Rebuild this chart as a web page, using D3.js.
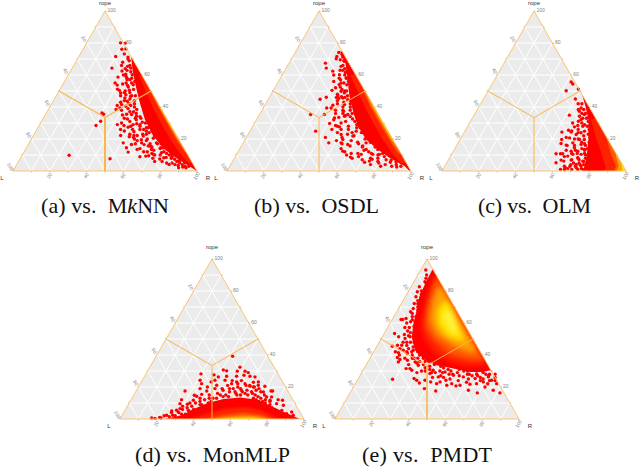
<!DOCTYPE html>
<html>
<head>
<meta charset="utf-8">
<script src="https://cdn.jsdelivr.net/npm/d3@7"></script>
<style>
  html, body { margin: 0; padding: 0; background: #fff; overflow: hidden; }
  svg { display: block; }
  .caption { font-family: "Liberation Serif", serif; font-size: 22px; fill: #111; white-space: pre; }
  .tick-label { font-family: "Liberation Sans", sans-serif; font-size: 5px; fill: #7f7f7f; }
  .axis-title { font-family: "Liberation Sans", sans-serif; font-size: 6px; fill: #333; }
</style>
</head>
<body>
<svg id="chart" width="640" height="467"></svg>
<script>
// all points are [R, rope] in percent, L is whatever is left over
const tickValues = [20, 40, 60, 80, 100];
const gridValues = [10, 20, 30, 40, 50, 60, 70, 80, 90];
const heatColors = ['#ff0000', '#ff2400', '#ff5a00', '#ffa000', '#ffe600', '#fff23c'];

const mknnPoints = [[18.4,80.1],[21,79.9],[21.1,76.1],[23.2,76.3],[23.9,73.2],[20,71.6],[25.6,68],[26.9,71.2],[21.6,64.3],[28.7,68.9],[29.6,65.4],[31.8,64.3],[30.5,62.9],[27.7,58.7],[31.9,59.1],[34.7,60.2],[35,57.1],[32.4,54.4],[29.8,53.7],[31.1,51.2],[32.6,50.4],[34.1,48.8],[37.5,47.7],[36.4,52.5],[38.4,53.9],[38.2,56],[38,45.6],[40.3,43.6],[40.6,46.7],[38.3,41.5],[36.2,40.9],[36.8,38.4],[38.4,39.4],[30.2,36.3],[31.5,35.5],[32.1,31.1],[30.9,28.4],[42.2,29],[46.1,28.4],[45.5,25.9],[48.9,27.4],[47.4,22.2],[51.1,17.6],[54.4,14.5],[56.1,16.6],[54.6,22.2],[56.4,22.2],[52.5,21.4],[56.7,11.8],[60.7,13.5],[64.5,8.9],[67.5,9.3],[48.9,7.7],[25.6,9.8],[71,10.4],[75,11.4],[77.8,8.3],[82.8,4.1],[80.9,10.4],[84.2,7.3],[88,5.2],[90.7,5.2],[50.8,29],[50,34.2],[46.8,35.3],[54.5,29],[60.1,24.9],[59.9,21.8],[61.1,17.6],[65.7,15.6],[68.5,13.5],[69.2,17.6],[74.3,14.5],[77.5,13.5],
  [26,66],[28,62.5],[30,60],[33,58],[28,55],[34,55],[36,50],[35,47],[39,49],[41,47],[37,43],[42,42],[44,44],[40,38],[43,39],[46,40],[42,35],[44,33],[47,37],[49,36],[44,30],[48,31],[51,32],[53,33],[48,25],[52,26],[55,28],[57,30],[52,23],[58,26],[60,27],[56,20],[61,23],[63,25],[58,17],[63,20],[66,22],[62,14],[66,17],[69,20],[65,12],[68,15],[72,17],[70,11],[73,14],[75,16],[72,8],[76,12],[79,13],[78,6],[82,9],[85,9],[86,4],[87,6.5],[90,4],[92,3],[94,3],[83,12],[80,10],
  [27.5,70],[30.5,66],[29,64],[33,62],[31,60.5],[35.5,58],[33.5,57],[37,55],[35.5,53.5],[40,51],[38,50.5],[36,49],[43,47],[41,45],[38.5,44],[45,42],[43.5,41],[41,40.5],[48,38.5],[45,37],[44,35.5],[52,34],[50,33],[46,32.5],[55,30.5],[52.5,29.5],[50,28],[59,27],[56,26],[53.5,24.5],[62,24],[59,23],[55,21],[66,20.5],[63,19],[60,19.5],[58,19],[70,17],[67,15.5],[63,16.5],[73,14.5],[70,13],[67,12],[78,11],[75,10],[72,10],[69,9.5],[82,8],[79,8.5],[76,7.5],[74,6],[86,6],[84,5],[81,5],[88,3.5],[91,2.5],[89,2],[93,2]];
const mknnBands = [
  [[28.4,71.6],[33.3,63.3],[40.3,52.9],[47.7,42.5],[55.6,32.2],[65.3,21.8],[75.7,13.5],[86,7.3],[98.2,1],[102,-2],[32,72]],
  [[38.5,60],[47,50],[56,40],[65.5,30],[75.4,20],[86.5,10],[93,5],[98,5],[42,61]],
  [[47.6,52],[59,40],[68.7,30],[78.6,20],[87.2,12],[90,12],[52,52]],
  [[51.9,48],[59.4,40],[69.2,30],[79.3,20],[84.8,15],[87,15],[55,48]],
  [[56,44],[64.7,35],[74.7,25],[80,20],[83,20],[60,44]]
];

const osdlPoints = [[23.7,74.1],[23.9,71.6],[24.3,70.1],[26.8,69.5],[27.3,71.2],[19.8,67.4],[21.8,64.3],[26.3,62.4],[29.3,65.4],[29.6,68.5],[31.5,62.9],[31,60.2],[33.6,61.6],[33.2,57],[35.7,58.1],[34.5,55],[38.2,53.9],[35.3,52.5],[31.9,50.4],[37.1,49.8],[39.4,48.8],[36.7,47.1],[30.9,46.1],[28.2,44.8],[38.1,45.4],[40.1,45.6],[43.3,44.6],[43.1,41.5],[37,41.1],[34.5,39.4],[36.9,39.4],[35.3,35.3],[27.8,35.3],[44.7,37.3],[48,35.3],[46.7,34.2],[41.8,33.2],[40.9,29.7],[44.8,28.4],[47.3,27.6],[35.7,24.9],[43,21],[46.5,17.6],[50.6,22.8],[53.1,19.7],[53.2,17.6],[57.3,16.6],[59.1,15.6],[56.7,12.4],[62.7,8.7],[65.6,11],[67.7,10.4],[74.3,6.2],[75.2,7.3],[74,10.4],[75.2,13.5],[77.6,10.4],[79.1,11],[85.8,6.8],[89.1,5.6],[92,5.2],[57.5,21.8],[57.8,24.9],[66,15.6],[66.8,17.6],[68.5,19.7],[68.9,13.5],
  [27,72],[30,66],[28,60],[32,64],[30,56],[34,60],[33,52],[36,55],[36,48],[39,50],[41,52],[38,44],[41,46],[44,48],[40,38],[43,40],[46,42],[42,32],[45,36],[48,38],[44,26],[47,30],[50,34],[52,36],[48,24],[52,28],[54,31],[56,33],[50,19],[54,23],[57,27],[60,30],[55,14],[58,19],[61,24],[64,27],[60,10],[63,17],[66,21],[69,23],[64,8],[68,13],[71,19],[73,20],[70,7],[73,11],[75,15],[77,17],[76,4],[78,8],[81,9],[82,13],[84,4],[87,8],[90,4],[93,3],[80,5],
  [26,73],[29,69],[30,63],[32,67],[34,62],[32,58],[36,58],[34,54],[38,56],[37,51],[40,50],[36.5,46],[39,46.5],[42,47],[39,42],[42,43],[45,44],[41,36],[44,38],[47,40],[44,33.5],[47,34.5],[50,36],[46,28],[49,31],[52,32.5],[49,26],[53,26],[56,29],[52,21],[56,24],[59,27],[54,17],[58,22],[62,24],[58,12],[62,18],[65,20],[62,11],[66,15],[69,18],[67,9],[71,12],[73,15],[74,8],[77,10],[79,13],[72,5.5],[79,6],[83,7],[86,5.5],[82,3],[88,3],[91,2.5]];
const osdlBands = [
  [[24.1,74.7],[30.7,67.4],[37.1,57],[43.2,46.7],[50.6,36.3],[57.1,28],[65.8,19.7],[75.2,13.5],[84.1,8.3],[94.9,3.1],[102,-2],[29,75]],
  [[37,60],[46,50],[55,40],[64.5,30],[74.5,20],[85.5,10],[92,5],[98,5],[42,61]],
  [[49,50],[58,40],[67.8,30],[78,20],[87.5,11],[90,11],[53,50]],
  [[53,46.5],[59,40],[69,30],[79,20],[85,14.5],[87,14],[56,47]],
  [[58.8,41],[64.6,35],[74.5,25],[81.7,18],[84,18],[62,41]]
];

const olmPoints = [[42.4,55.6],[43.9,54.4],[42.4,50.2],[48.5,51.2],[51.8,34.9],[54.9,38.4],[55.9,39.4],[56,37.3],[57.8,38.4],[57.6,34.2],[59.7,35.3],[59.5,32.2],[62.6,33.2],[58.6,31.1],[58.2,27.6],[56,25.5],[53,24.3],[58,24.3],[59.6,28.4],[62.5,28],[63.6,23.9],[61.5,22.8],[65,24.9],[59,20.7],[55.2,19.7],[56.1,17.2],[59.4,16.2],[62.3,17.6],[64.9,19.7],[67.5,19.7],[67.3,16.6],[64.7,14.5],[64,12.4],[67.6,12.4],[70.6,13.5],[56.6,10.8],[59,10.8],[60.2,10.8],[65.9,10.4],[70.4,10.4],[63.7,9.3],[61.3,6.8],[59.4,5.2],[63.1,6.2],[66.8,6.8],[69.6,8.3],[73.4,6.2],[70.9,4.1],[74,3.1],[63.9,1],[66,1],[67.6,1.5],[73.3,1],[76,1],
  [50,45],[53,42],[55,42],[58,36],[60,33],[61,30],[63,29],[58,25],[61,26],[65,28],[62,20],[66,22],[68,23],[60,16],[64,16],[69,17],[71,18],[62,9],[66,13],[69,14],[72,14],[67,7],[70,8],[72,11],[74,8],[68,4],[72,5],[75,4],[65,3],[70,1],[72,2],[75,1.5],
  [60,36],[62,33],[64,31],[56,30],[62,24],[67,26],[57,21],[64,20],[70,21],[61,13],[67,18],[70,16],[72,19],[65,11],[68,11],[71,13],[73,16],[69,5],[71,7],[73,10],[75,12],[66,2],[68,3],[71,3],[73,4],[74,6],[76,9],[77,3],[78,6]];
const olmBands = [
  [[52.6,47.4],[57.7,40.5],[63.5,32.2],[69.7,19.7],[74,9.3],[77.4,-2],[104,-2],[56,48]],
  [[65,32],[74,20],[82,10],[88,2],[88,-2],[104,-2],[69,34]],
  [[79.5,20],[87,10],[93,3],[94,-2],[104,-2],[83,20]],
  [[89.4,10],[94.5,3],[95,-2],[104,-2],[93,11]],
  [[94.8,5],[97.5,1],[97.8,-2],[104,-2],[98,5.5]]
];

const monmlpPoints = [[41.6,39.2],[29.9,28.2],[40.8,30.7],[42.9,30.1],[49,32.4],[48.8,29.9],[50,26.7],[53,29.9],[55.2,29],[53.7,27.3],[57.3,26.7],[60.2,26.3],[37.3,27.6],[40.3,26.3],[44.6,26.7],[31.4,24.2],[33.3,22.1],[37.5,20],[26.6,17.5],[33,14.8],[34.6,14.2],[36.7,15.4],[38.4,17.5],[37.9,23.2],[42,21.1],[39.5,24.2],[45,24.2],[49.6,22.1],[51.8,23.2],[56.9,22.1],[60.4,20.5],[63.6,23.2],[64.6,21.1],[68.5,20.5],[74.2,17.5],[73.3,17.5],[79.9,12.1],[82.5,11.7],[84.5,8.6],[75.5,13.8],[80.3,9.6],[91.1,4.4],[93,2.3],[27.4,12.1],[27.8,9.6],[32,9.2],[34,11.7],[34.4,5.4],[29.4,6.5],[25.6,5],[24.2,2.3],[27.5,2.3],[29.5,4.4],[16.9,0.6],[18.8,0.4],[34,19],[42.1,19],[62.5,20],[69.5,16.9],[72.8,13.8],[75.7,11.7],[85.2,5.4],[88.9,3.3],
  [30,8],[33,7],[36,10],[30,4],[37,13],[40,12],[41,15],[44,13],[45,16],[47,18],[49,14],[51,17],[52,19],[55,16],[56,19],[58,17],[60,18],[63,17],[65,18],[66,15],[68,14],[70,13],[72,11],[74,10],[77,9],[79,7],[81,6],[83,5],[86,3],[88,2],[26,4],[23,2],[21,1],[22,0.6],[34,3],[37,6],[39,9],[43,10],[48,21],[53,22],[58,21],[54,24],[61,23],[66,19],[71,15],
  [28,5.5],[31,6],[33,10],[35,8],[38,11],[40,9],[42,13],[44,11],[46,13],[47,15],[50,15],[52,14],[54,17],[56,15],[58,15],[60,16],[62,15],[64,16],[66,13],[68,12],[70,11],[72,9],[75,8],[77,7],[80,5],[82,4],[85,2.5],[88,1.5],[91,1],[26,1.5],[29,2],[32,3],[35,5],[46,19],[50,19],[54,20],[57,18],[60,21],[63,20],[68,17],[73,12],[76,11],[49,24]];
const monmlpBands = [
  [[24.5,-2],[24.5,0],[32.8,2.5],[36.5,6],[42.6,10],[50,12.5],[58.6,13.5],[68.7,12],[79.4,7.5],[89.3,3.5],[97.8,0],[97.8,-2]],
  [[38,-2],[38,0],[46,3.5],[54,6.5],[64,7.5],[74,5.5],[82,2],[87,0],[87,-2]],
  [[48,-2],[48,0],[55,2.5],[65,3.8],[75,2.5],[82,0],[82,-2]],
  [[52,-2],[52,0],[60,1.3],[69,1.8],[76,1],[80,0],[80,-2]],
  [[56,-2],[56,0],[64,0.7],[72,0.7],[77,0],[77,-2]]
];

const pmdtPoints = [[2.8,93.1],[4.8,90],[5.5,87.9],[6,85.8],[4.5,82.7],[5,79.5],[7,72.2],[5.8,76.4],[8,69.1],[7.6,67],[7.2,62.8],[4.8,62.2],[5.7,62.2],[10.7,60.8],[11.8,57.2],[9.4,57.2],[5.7,53.4],[8.9,51.4],[11.3,52.8],[12.9,50.3],[15.1,51.4],[16.8,53.4],[8.4,45.5],[10.9,46.1],[13.2,46.1],[13.3,44],[11.8,42],[13.7,41.5],[15.6,43],[18.9,40.9],[20.7,42],[14.7,38.4],[16.7,37.2],[16.6,35.7],[21,36.7],[25.7,35.7],[28.5,33.6],[22.9,31.5],[25,31.5],[26.5,30.5],[18.9,24.8],[30.3,25.3],[32.3,24.2],[34.6,22.5],[36.8,24.2],[39.1,19],[37.4,28.4],[40.4,23.2],[46,17.5],[44.2,22.1],[45.5,23.2],[43,26.3],[48.2,24.2],[50.2,21.1],[52.4,22.1],[55.4,20.7],[57.4,21.1],[63.5,18],[69.2,16.3],[62.5,21.7],[65.9,22.1],[69,23.2],[71.5,20],[77,18],[81.5,16.3],[76.8,22.1],[73,24.2],[70.2,26.3],[38.1,30.5],[45.1,29.4],[50.7,27.3],[56.6,26.3],[63.5,25.3],
  [7,80],[8,74],[9,66],[10,64],[9,60],[11,62],[12,55],[14,54],[13,48],[15,48],[17,48],[15,40],[18,44],[20,45],[19,38],[22,40],[24,38],[26,38],[23,34],[28,36],[31,34],[33,32],[30,29],[34,30],[36,31],[38,29],[40,26],[42,30],[44,27],[46,26],[48,28],[50,25],[52,29],[54,27],[55,24],[58,28],[60,25],[61,27],[64,27],[66,26],[68,28],[72,24],[74,26],[60,23],[67,24],
  [7,85],[8,78],[9,72],[10,70],[11,68],[12,64],[13,61],[14,58],[14,52],[16,55],[18,50],[16,46],[19,48],[21,46],[18,42],[21,43],[24,42],[23,38],[26,40],[29,38],[27,35],[31,36],[33,36],[32,30],[35,33],[37,34],[41,33],[40,29],[43,32],[46,31],[44,29],[48,30],[52,31],[50,28],[55,30],[57,30],[59,28],[62,30],[63,28],[66,29],[70,27],[68,25],[70,28],[73,28],[75,24],[72,22]];
const pmdtBands = [
  [[6.2,93.5],[6.6,85.8],[7.6,76.4],[10.4,68.1],[12.8,59.7],[16,51.4],[22,43],[30.6,36.7],[38.5,33.6],[48.5,31.5],[58.7,29.4],[65.9,29.4],[69,30.5],[71,29],[74,30],[10,94]],
  [[9.3,90],[11.4,78.5],[14.9,68.1],[18.3,57.6],[24.2,49.3],[33.9,40.9],[44.7,35.7],[54.8,33.6],[63.8,33.6],[65,35],[12,90]],
  [[11,88],[13,78],[16,67],[21,57],[30,49],[42,41],[52,38],[60,37],[62,38],[14,86]],
  [[15,82],[17,72],[21,62],[29,53],[42,46],[52,42],[56,42],[18,81]],
  [[23,74],[22,68],[26,60],[35,52],[44,49],[46,49],[38,58],[28,70]],
  [[27,68],[27,64],[36,55],[40,54],[36,59],[30,66]]
];

// where each triangle sits and how thick its three orange dividers are
const panels = [
  {letter: 'a', method: ['M', 'k', 'NN'], points: mknnPoints, bands: mknnBands, blur: 0.4, x0: 13, bottom: 171, capL: 41, capW: 128, capY: 213, dividerW: [1.2, 1.2, 2]},
  {letter: 'b', method: ['OSDL'], points: osdlPoints, bands: osdlBands, blur: 0.4, x0: 227, bottom: 171, capL: 254, capW: 125, capY: 213, dividerW: [1, 1, 1]},
  {letter: 'c', method: ['OLM'], points: olmPoints, bands: olmBands, blur: 0.6, x0: 442, bottom: 171, capL: 478, capW: 113, capY: 213, dividerW: [1, 1, 1]},
  {letter: 'd', method: ['MonMLP'], points: monmlpPoints, bands: monmlpBands, blur: 1.2, x0: 120, bottom: 419, capL: 135, capW: 155, capY: 462, dividerW: [1, 1, 1]},
  {letter: 'e', method: ['PMDT'], points: pmdtPoints, bands: pmdtBands, blur: 2.5, x0: 335, bottom: 419, capL: 362, capW: 130, capY: 462, dividerW: [1, 1, 1.6]}
];

const svg = d3.select('#chart');
const defs = svg.append('defs');
const addBlur = (id, amount) => defs.append('filter').attr('id', id)
  .attr('x', '-30%').attr('y', '-30%').attr('width', '160%').attr('height', '160%')
  .append('feGaussianBlur').attr('stdDeviation', amount);
addBlur('edge', 0.7);

const line = d3.line();

panels.forEach((p, i) => {
  const across = d3.scaleLinear().domain([0, 100]).range([p.x0, p.x0 + 184]);
  const up = d3.scaleLinear().domain([0, 100]).range([p.bottom, p.bottom - 160]);
  const pos = d => [across(d[0] + d[1] / 2), up(d[1])];

  const g = svg.append('g');
  const corners = [[0, 0], [100, 0], [0, 100]];
  const outline = line(corners.map(pos)) + 'Z';

  defs.append('clipPath').attr('id', 'tri' + i).append('path').attr('d', outline);
  addBlur('heat' + i, p.blur);

  g.append('path').attr('d', outline).attr('fill', '#ebebeb');

  // white grid in all three directions
  const grid = g.append('g').attr('stroke', '#fff').attr('stroke-width', 1).attr('fill', 'none');
  gridValues.forEach(v => {
    grid.append('path').attr('d', line([[0, v], [100 - v, v]].map(pos)));
    grid.append('path').attr('d', line([[v, 0], [v, 100 - v]].map(pos)));
    grid.append('path').attr('d', line([[v, 0], [0, v]].map(pos)));
  });

  const heat = g.append('g').attr('clip-path', `url(#tri${i})`);
  heat.append('path').attr('d', line(p.bands[0].map(pos)) + 'Z')
    .attr('fill', heatColors[0]).attr('filter', 'url(#edge)');

  g.append('g').selectAll('circle').data(p.points).join('circle')
    .attr('cx', d => pos(d)[0]).attr('cy', d => pos(d)[1])
    .attr('r', 1.7).attr('fill', '#f00');

  // the warmer bands go over the dots so the core stays smooth
  g.append('g').attr('clip-path', `url(#tri${i})`)
    .append('g').attr('filter', `url(#heat${i})`)
    .selectAll('path').data(p.bands.slice(1)).join('path')
    .attr('d', d => line(d.map(pos)) + 'Z')
    .attr('fill', (d, k) => heatColors[k + 1]);

  g.append('path').attr('d', outline).attr('fill', 'none').attr('stroke', '#fbc56f').attr('stroke-width', 1);

  // dividers from the centre out to the edge midpoints
  const centre = [33.3, 33.4];
  [[0, 50], [50, 50], [50, 0]].forEach((end, k) => {
    g.append('path').attr('d', line([centre, end].map(pos)))
      .attr('fill', 'none').attr('stroke', '#fbb64e').attr('stroke-width', p.dividerW[k]);
  });

  // tick marks every ten, labels every twenty
  const ticks = g.append('g').attr('stroke', '#999').attr('stroke-width', 0.5);
  [...gridValues, 100].forEach(v => {
    const b = pos([v, 0]), r = pos([100 - v, v]), l = pos([0, 100 - v]);
    ticks.append('line').attr('x1', b[0]).attr('y1', b[1]).attr('x2', b[0]).attr('y2', b[1] + 1.5);
    ticks.append('line').attr('x1', r[0]).attr('y1', r[1]).attr('x2', r[0] + 1.5).attr('y2', r[1]);
    ticks.append('line').attr('x1', l[0]).attr('y1', l[1]).attr('x2', l[0] - 1.1).attr('y2', l[1] - 1);
  });
  tickValues.forEach(v => {
    const b = pos([v, 0]), r = pos([100 - v, v]), l = pos([0, 100 - v]);
    g.append('text').attr('class', 'tick-label').text(v)
      .attr('text-anchor', 'middle').attr('dominant-baseline', 'middle')
      .attr('transform', `translate(${b[0]},${b[1] + 5}) rotate(-60)`);
    g.append('text').attr('class', 'tick-label').text(v)
      .attr('dominant-baseline', 'middle').attr('x', r[0] + 2.5).attr('y', r[1]);
    g.append('text').attr('class', 'tick-label').text(v)
      .attr('text-anchor', 'middle').attr('dominant-baseline', 'middle')
      .attr('transform', `translate(${l[0] - 3},${l[1] - 4}) rotate(60)`);
  });

  const apex = pos([0, 100]), right = pos([100, 0]), left = pos([0, 0]);
  // the top row has no room above it, keep the title just inside the page
  g.append('text').attr('class', 'axis-title').text('rope').attr('text-anchor', 'middle')
    .attr('dominant-baseline', 'middle').attr('x', apex[0]).attr('y', Math.max(apex[1] - 11.5, 3.5));
  g.append('text').attr('class', 'axis-title').text('L').attr('text-anchor', 'middle')
    .attr('dominant-baseline', 'middle').attr('x', left[0] - 11).attr('y', left[1] + 7);
  g.append('text').attr('class', 'axis-title').text('R').attr('text-anchor', 'middle')
    .attr('dominant-baseline', 'middle').attr('x', right[0] + 11).attr('y', right[1] + 7);

  const cap = svg.append('text').attr('class', 'caption')
    .attr('x', p.capL).attr('y', p.capY)
    .attr('textLength', p.capW).attr('lengthAdjust', 'spacing');
  cap.append('tspan').text(`(${p.letter}) vs.  `);
  p.method.forEach(part => {
    cap.append('tspan').text(part).attr('font-style', part === 'k' ? 'italic' : null);
  });
});
</script>
</body>
</html>
